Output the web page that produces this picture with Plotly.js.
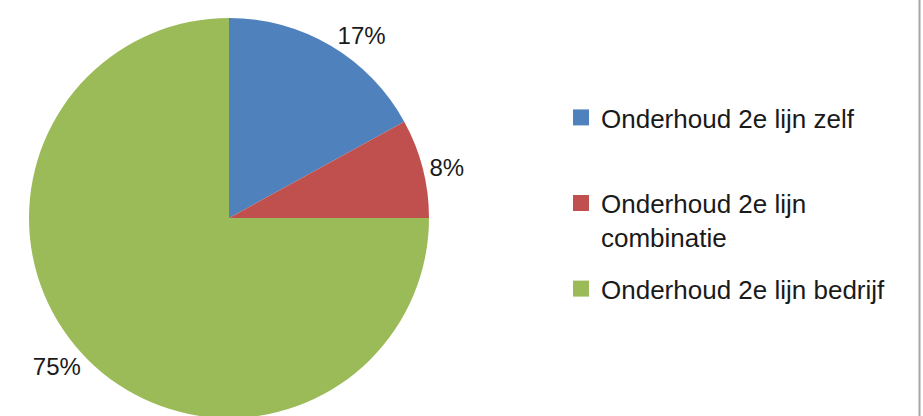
<!DOCTYPE html>
<html>
<head>
<meta charset="utf-8">
<script src="https://cdn.plot.ly/plotly-3.0.1.min.js"></script>
<style>
  html, body { margin: 0; padding: 0; background: #ffffff; overflow: hidden; }
  #chart { width: 923px; height: 420px; }
</style>
</head>
<body>
<div id="chart"></div>
<script>
// Data
var categories = ['Onderhoud 2e lijn zelf', 'Onderhoud 2e lijn combinatie', 'Onderhoud 2e lijn bedrijf'];
var legendLabels = ['Onderhoud 2e lijn zelf<br> ', 'Onderhoud 2e lijn<br>combinatie', 'Onderhoud 2e lijn bedrijf'];
var values = [17, 8, 75];
var colors = ['#4F81BD', '#C0504D', '#9BBB59'];

var FONT = 'Liberation Sans, Arial, sans-serif';
var W = 923;

var traces = [{
  type: 'pie',
  labels: categories,
  values: values,
  sort: false,
  direction: 'clockwise',
  rotation: 0,
  marker: { colors: colors, line: { width: 0 } },
  textinfo: 'percent',
  textposition: 'outside',
  outsidetextfont: { family: FONT, size: 24, color: '#1a1a1a' },
  showlegend: false,
  automargin: false,
  hoverinfo: 'label+percent',
  domain: { x: [29 / W, 429 / W], y: [0, 1] }
}];

for (var i = 0; i < categories.length; i++) {
  traces.push({
    type: 'scatter',
    mode: 'markers',
    x: [null],
    y: [null],
    name: legendLabels[i],
    legendgroup: 'g' + i,
    marker: { symbol: 'square', size: 16, color: colors[i] },
    showlegend: true,
    hoverinfo: 'skip'
  });
}

var layout = {
  width: 923,
  height: 420,
  margin: { l: 0, r: 0, t: 18, b: 2 },
  paper_bgcolor: '#ffffff',
  plot_bgcolor: '#ffffff',
  font: { family: FONT, size: 26, color: '#1a1a1a' },
  xaxis: { visible: false, domain: [0.6, 0.61] },
  yaxis: { visible: false },
  showlegend: true,
  legend: {
    x: 561 / W,
    xanchor: 'left',
    y: 0.81,
    yanchor: 'top',
    traceorder: 'grouped',
    tracegroupgap: 15,
    valign: 'top',
    itemwidth: 30,
    font: { family: FONT, size: 26, color: '#1a1a1a' },
    bgcolor: 'rgba(0,0,0,0)'
  },
  shapes: [{
    type: 'line', xref: 'paper', yref: 'paper',
    x0: 919.5 / W, x1: 919.5 / W, y0: -0.1, y1: 1.1,
    line: { color: '#a6a6a6', width: 2 }
  }]
};

Plotly.newPlot('chart', traces, layout, { displayModeBar: false, staticPlot: true });
</script>
</body>
</html>
